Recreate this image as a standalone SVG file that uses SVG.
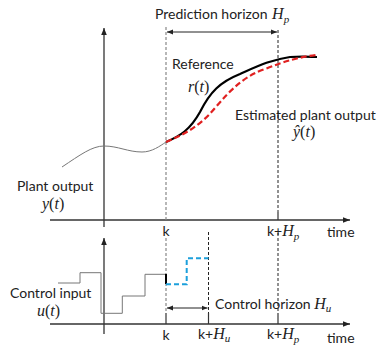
<svg xmlns="http://www.w3.org/2000/svg" width="387" height="358" viewBox="0 0 387 358">
<defs>
<marker id="ah" viewBox="0 0 10 10" refX="10" refY="5" markerWidth="7" markerHeight="7" markerUnits="userSpaceOnUse" orient="auto-start-reverse">
<path d="M0,1 L10,5 L0,9 Z" fill="#222"/>
</marker>
<marker id="sh" viewBox="0 0 10 10" refX="10" refY="5" markerWidth="6" markerHeight="6" markerUnits="userSpaceOnUse" orient="auto-start-reverse">
<path d="M0,1 L10,5 L0,9 Z" fill="#222"/>
</marker>
</defs>
<style>
.axis{stroke:#333;stroke-width:1.3;fill:none}
.gdash{stroke:#888;stroke-width:1.2;stroke-dasharray:3,2;fill:none}
.kdash{stroke:#222;stroke-width:1;stroke-dasharray:3,2;fill:none}
.tick{stroke:#333;stroke-width:1.2}
.sig{stroke:#777;stroke-width:1;fill:none}
.lbl{font-family:Lato,"Liberation Sans",sans-serif;font-size:14px;fill:#222}
.m{font-family:"Liberation Serif",serif;font-style:italic}
.up{font-family:"Liberation Serif",serif;font-style:normal}
</style>
<rect width="387" height="358" fill="#fff"/>
<g id="connectors">
<line class="axis" x1="50" y1="220" x2="350" y2="220" marker-end="url(#ah)"/>
<line class="axis" x1="104" y1="227" x2="104" y2="28" marker-end="url(#ah)"/>
<line class="axis" x1="50" y1="324" x2="350" y2="324" marker-end="url(#ah)"/>
<line class="axis" x1="104" y1="334" x2="104" y2="238" marker-end="url(#ah)"/>
<line class="gdash" x1="166" y1="27" x2="166" y2="222"/>
<line class="gdash" x1="166" y1="238" x2="166" y2="313"/>
<line class="tick" x1="166" y1="313" x2="166" y2="324"/>
<line class="kdash" x1="278" y1="30" x2="278" y2="212"/>
<line class="tick" x1="278" y1="212" x2="278" y2="220"/>
<line class="kdash" x1="278" y1="233" x2="278" y2="313"/>
<line class="tick" x1="278" y1="313" x2="278" y2="324"/>
<line class="kdash" x1="208.5" y1="232" x2="208.5" y2="313"/>
<line class="tick" x1="208.5" y1="313" x2="208.5" y2="324"/>
<line stroke="#222" stroke-width="1" x1="167" y1="32" x2="277" y2="32" marker-start="url(#sh)" marker-end="url(#sh)"/>
<line stroke="#222" stroke-width="1" x1="167" y1="308" x2="207.5" y2="308" marker-start="url(#sh)" marker-end="url(#sh)"/>
</g>
<g id="plant-output-curve">
<path class="sig" d="M62,167 C80,155 92,146 104,146 C118,146 128,152 142,152 C152,152 160,146 166,142"/>
</g>
<g id="reference">
<path d="M166,142 C180,136 190,130 200,112 C210,92 220,82 240,74 C258,66 270,60 290,57 C305,56 312,57 317,57" stroke="#000" stroke-width="2.2" fill="none"/>
</g>
<g id="estimated-output">
<path d="M166,142 C185,134 200,126 215,108 C232,88 245,76 265,69 C285,61 300,57 316,55" stroke="#e02020" stroke-width="2.2" stroke-dasharray="6,3" fill="none"/>
</g>
<g id="control-input">
<path class="sig" d="M58,283 H80 V272.7 H101 V313.3 H122.3 V296 H145 V274.3 H166"/>
<line x1="166" y1="274" x2="166" y2="284" stroke="#000" stroke-width="2"/>
<path d="M166,284.3 H186.7 V258.3 H208.5" stroke="#1ca0dc" stroke-width="2" stroke-dasharray="5,3" fill="none"/>
</g>
<g id="labels">
<text class="lbl" x="155" y="19">Prediction horizon <tspan class="m" font-size="16" dx="1">H</tspan><tspan class="m" font-size="11" dy="4">p</tspan></text>
<text class="lbl" x="172" y="69">Reference</text>
<text class="lbl" x="188" y="91.5"><tspan class="m" font-size="16">r</tspan><tspan class="up" font-size="16">(</tspan><tspan class="m" font-size="16">t</tspan><tspan class="up" font-size="16">)</tspan></text>
<text class="lbl" x="235" y="120">Estimated plant output</text>
<text class="lbl" x="293" y="137"><tspan class="m" font-size="16">ŷ</tspan><tspan class="up" font-size="16">(</tspan><tspan class="m" font-size="16">t</tspan><tspan class="up" font-size="16">)</tspan></text>
<text class="lbl" x="17" y="191">Plant output</text>
<text class="lbl" x="42" y="209"><tspan class="m" font-size="16">y</tspan><tspan class="up" font-size="16">(</tspan><tspan class="m" font-size="16">t</tspan><tspan class="up" font-size="16">)</tspan></text>
<text class="lbl" x="166" y="236" text-anchor="middle">k</text>
<text class="lbl" x="267" y="236">k+<tspan class="m" font-size="16">H</tspan><tspan class="m" font-size="11" dy="4">p</tspan></text>
<text class="lbl" x="327" y="237">time</text>
<text class="lbl" x="10" y="298">Control input</text>
<text class="lbl" x="37" y="316"><tspan class="m" font-size="16">u</tspan><tspan class="up" font-size="16">(</tspan><tspan class="m" font-size="16">t</tspan><tspan class="up" font-size="16">)</tspan></text>
<text class="lbl" x="215" y="309">Control horizon <tspan class="m" font-size="16">H</tspan><tspan class="m" font-size="11" dy="3">u</tspan></text>
<text class="lbl" x="166" y="340" text-anchor="middle">k</text>
<text class="lbl" x="198" y="339">k+<tspan class="m" font-size="16">H</tspan><tspan class="m" font-size="11" dy="3">u</tspan></text>
<text class="lbl" x="267" y="339">k+<tspan class="m" font-size="16">H</tspan><tspan class="m" font-size="11" dy="4">p</tspan></text>
<text class="lbl" x="327" y="343">time</text>
</g>
</svg>
